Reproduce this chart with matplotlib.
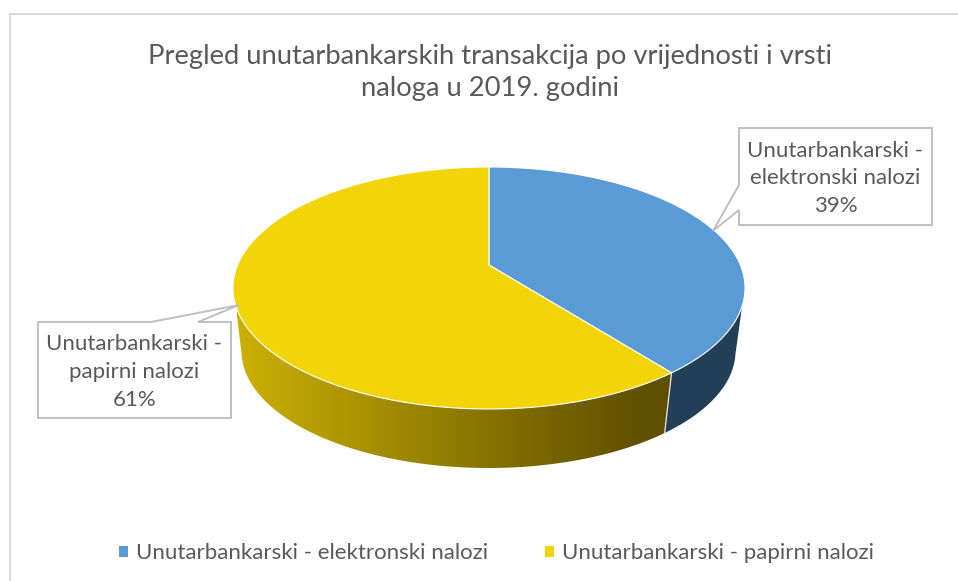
import numpy as np
import matplotlib
matplotlib.use("Agg")
import matplotlib.pyplot as plt
from matplotlib.patches import Polygon, Rectangle

plt.rcParams['font.family'] = ['Lato', 'DejaVu Sans']

title = "Pregled unutarbankarskih transakcija po vrijednosti i vrsti\nnaloga u 2019. godini"
categories = ["Unutarbankarski - elektronski nalozi", "Unutarbankarski - papirni nalozi"]
callouts = ["Unutarbankarski -\nelektronski nalozi\n39%", "Unutarbankarski -\npapirni nalozi\n61%"]
values = [39.4, 60.6]

TOP_COLORS = ["#5B9BD5", "#F2D508"]
WALL_BLUE = "#233F57"
TEXT = "#595959"
FRAME = "#D9D9D9"
BOX = "#BFBFBF"

fig = plt.figure(figsize=(9.58, 5.81), dpi=100)
ax = fig.add_axes([0, 0, 1, 1])
ax.set_xlim(0, 958)
ax.set_ylim(581, 0)
ax.axis("off")

# chart frame
ax.plot([958, 10, 10], [14, 14, 581], color=FRAME, lw=1.5, zorder=1)

B = -0.19


def project(theta, cx, cy, rx, ry):
    """Clockwise angle from 12 o'clock -> tilted disc with perspective."""
    x, y = np.sin(theta), -np.cos(theta)
    d = 1 + B * y
    return cx + rx * np.sqrt(1 - B ** 2) * x / d, cy + ry * (y + B) / d


TOP = (489, 288, 256, 121)
BOT = (488.5, 351, 247, 117)
fractions = np.cumsum([0] + values) / sum(values)
angles = 2 * np.pi * fractions
div = angles[1]


def arc(a0, a1, e, n=200):
    return np.column_stack(project(np.linspace(a0, a1, n), *e))


# side walls
tl, bl = np.radians(250.7), np.radians(257.4)
tr, br = np.radians(109.3), np.radians(102.6)
yellow_wall = np.vstack([arc(div, tl, TOP), arc(bl, div, BOT)])
blue_wall = np.vstack([arc(tr, div, TOP), arc(div, br, BOT)])

ax.add_patch(Polygon(blue_wall, closed=True, fc=WALL_BLUE, ec="none", zorder=2))
grad_stops = [(0.0, (0.80, 0.69, 0.02)), (0.62, (0.50, 0.43, 0.0)), (0.9, (0.38, 0.32, 0.01)), (1.0, (0.37, 0.31, 0.01))]
xs = np.linspace(0, 1, 256)
img = np.stack([np.interp(xs, [s[0] for s in grad_stops], [s[1][i] for s in grad_stops]) for i in range(3)], axis=-1)[None, :, :]
im = ax.imshow(img, extent=(237, 680, 480, 295), aspect="auto", zorder=2, interpolation="bilinear")
im.set_clip_path(Polygon(yellow_wall, closed=True, transform=ax.transData))
ax.set_xlim(0, 958)
ax.set_ylim(581, 0)

# divider between the walls
ax.plot(*zip(project(div, *TOP), project(div, *BOT)), color="#E8E8E0", lw=0.9, zorder=3)

# top faces
cx_apex = TOP[0]
cy_apex = TOP[1] + TOP[3] * B
for i, col in enumerate(TOP_COLORS):
    a = arc(angles[i], angles[i + 1], TOP, 400)
    pts = np.vstack([[cx_apex, cy_apex], a])
    ax.add_patch(Polygon(pts, closed=True, fc=col, ec="white", lw=0.8, joinstyle="round", zorder=4))

# callouts
bx1 = [(739, 128), (932, 128), (932, 225), (739, 225), (739, 210), (713, 231), (739, 185)]
bx2 = [(38, 322), (151, 322), (239, 305), (198, 322), (231, 322), (231, 418), (38, 418)]
for b in (bx1, bx2):
    ax.add_patch(Polygon(b, closed=True, fc="white", ec=BOX, lw=1.4, zorder=5))
for (x, y), s in zip([(835.5, 178.5), (134.5, 372)], callouts):
    ax.text(x, y, s, ha="center", va="center", color=TEXT, fontsize=16, linespacing=1.47, zorder=6)

ax.text(490.5, 72.5, title, ha="center", va="center", color=TEXT, fontsize=19.7, linespacing=1.36, zorder=6)

handles = [Rectangle((0, 0), 1, 1, fc=c, ec="none") for c in TOP_COLORS]
leg = ax.legend(handles, categories, loc="center", bbox_to_anchor=(496.5 / 958, 1 - 553 / 581),
                ncol=2, frameon=False, fontsize=16, labelcolor=TEXT, handlelength=0.38, handleheight=0.38,
                handletextpad=0.36, columnspacing=2.57, borderpad=0, borderaxespad=0)

fig.savefig("out.png", dpi=100, facecolor="white")
